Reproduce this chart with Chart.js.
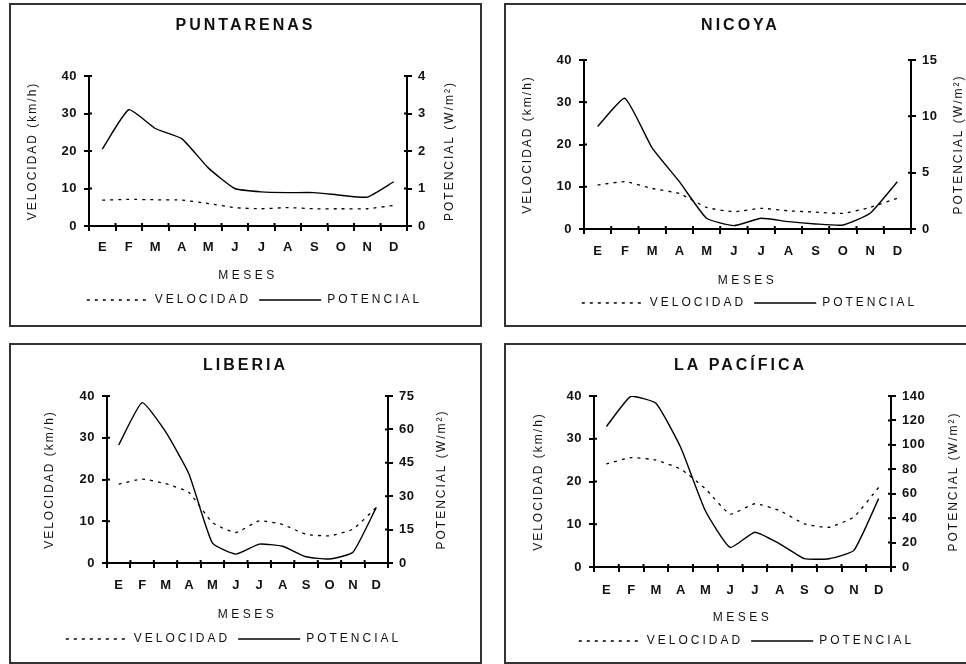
<!DOCTYPE html>
<html>
<head>
<meta charset="utf-8">
<script src="https://cdn.jsdelivr.net/npm/chart.js@4.4.1/dist/chart.umd.min.js"></script>
<style>
    body { margin: 0; width: 966px; height: 664px; overflow: hidden; background: #fff; position: relative; }
    .panel { position: absolute; box-sizing: border-box; border: 2px solid #333; }
    .panel canvas { position: absolute; left: -2px; top: -2px; }
</style>
</head>
<body>
<div class="panel" style="left:9px;top:3px;width:473px;height:324px"><canvas id="c1" width="473" height="324"></canvas></div>
<div class="panel" style="left:504px;top:3px;width:473px;height:324px"><canvas id="c2" width="473" height="324"></canvas></div>
<div class="panel" style="left:9px;top:343px;width:473px;height:321px"><canvas id="c3" width="473" height="321"></canvas></div>
<div class="panel" style="left:504px;top:343px;width:473px;height:321px"><canvas id="c4" width="473" height="321"></canvas></div>
<script>
const months = ['E', 'F', 'M', 'A', 'M', 'J', 'J', 'A', 'S', 'O', 'N', 'D'];

// velocidad in km/h (left axis), potencial in W/m2 (right axis)
const puntarenasVel = [6.9, 7.1, 7.0, 6.9, 6.0, 4.9, 4.6, 4.9, 4.6, 4.6, 4.6, 5.5];
const puntarenasPot = [2.05, 3.1, 2.6, 2.33, 1.55, 1.0, 0.91, 0.89, 0.89, 0.82, 0.77, 1.18];

const nicoyaVel = [10.4, 11.2, 9.6, 8.4, 5.1, 4.1, 4.9, 4.3, 4.0, 3.7, 5.1, 7.3];
const nicoyaPot = [9.1, 11.6, 7.2, 4.2, 0.95, 0.3, 0.95, 0.65, 0.45, 0.35, 1.4, 4.2];

const liberiaVel = [18.9, 20.1, 19.0, 16.9, 9.7, 7.3, 10.1, 9.2, 6.9, 6.5, 8.1, 13.3];
const liberiaPot = [53, 72, 59, 40, 9, 4, 8.5, 7.5, 2.8, 1.8, 4.8, 25];

const pacificaVel = [24.1, 25.6, 25.0, 22.9, 18.3, 12.4, 14.8, 13.2, 10.1, 9.3, 11.7, 18.6];
const pacificaPot = [115, 140, 134, 98, 46, 16, 28.5, 19, 6.8, 6.8, 13.6, 56];

const FONT = "'Liberation Sans', Arial, sans-serif";

const panels = [
    { id: 'c1', title: 'PUNTARENAS', vel: puntarenasVel, pot: puntarenasPot, potMax: 4, potStep: 1,
      H: 324, L: 80, R: 398, T: 73, B: 223, xlab: 244, meses: 273, legend: 297, legendDx: 9, ltx: 24, rtx: 441 },
    { id: 'c2', title: 'NICOYA', vel: nicoyaVel, pot: nicoyaPot, potMax: 15, potStep: 5,
      H: 324, L: 80, R: 407, T: 57, B: 226, xlab: 248, meses: 278, legend: 300, legendDx: 9, ltx: 24, rtx: 455 },
    { id: 'c3', title: 'LIBERIA', vel: liberiaVel, pot: liberiaPot, potMax: 75, potStep: 15,
      H: 321, L: 98, R: 379, T: 53, B: 220, xlab: 242, meses: 272, legend: 296, legendDx: -12, ltx: 41, rtx: 433 },
    { id: 'c4', title: 'LA PACÍFICA', vel: pacificaVel, pot: pacificaPot, potMax: 140, potStep: 20,
      H: 321, L: 90, R: 387, T: 53, B: 224, xlab: 247, meses: 275, legend: 298, legendDx: 6, ltx: 35, rtx: 450 }
];

// wraps a box method so its text is drawn with letter spacing (and an optional shift)
function withSpacing(obj, name, sp, dx) {
    const orig = obj[name];
    obj[name] = function () {
        const c = this.ctx;
        const old = c.letterSpacing;
        c.letterSpacing = sp + 'px';
        if (dx) { c.save(); c.translate(dx, 0); }
        const r = orig.apply(this, arguments);
        if (dx) c.restore();
        c.letterSpacing = old;
        return r;
    };
}

const spacing = {
    id: 'spacing',
    beforeLayout(chart, args, opts) {
        if (chart._spWrapped) return;
        chart._spWrapped = true;
        withSpacing(chart.legend, 'fit', 3, 0);
        withSpacing(chart.legend, 'draw', 3, opts.legendDx);
        withSpacing(chart.titleBlock, 'draw', 3, 0);
    },
    afterLayout(chart) {
        const s = chart.scales;
        if (s.x._spWrapped) return;
        s.x._spWrapped = true;
        withSpacing(s.x, 'drawTitle', 3.5, 0);
        withSpacing(s.y, 'drawTitle', 2, 0);
        withSpacing(s.y, 'drawLabels', 0.5, 0);
        withSpacing(s.y1, 'drawLabels', 0.5, 0);
    }
};

// inward tick marks and the right axis title (reads bottom to top)
const extras = {
    id: 'extras',
    afterDraw(chart, args, opts) {
        const ctx = chart.ctx;
        const a = chart.chartArea;
        const x = chart.scales.x, y = chart.scales.y, y1 = chart.scales.y1;
        ctx.save();
        ctx.strokeStyle = '#000';
        ctx.lineWidth = 2;
        ctx.beginPath();
        const step = x.getPixelForValue(1) - x.getPixelForValue(0);
        for (let i = 0; i <= months.length; i++) {
            const px = x.getPixelForValue(0) + step * (i - 0.5);
            ctx.moveTo(px, a.bottom);
            ctx.lineTo(px, a.bottom - 3);
        }
        y.ticks.forEach(t => {
            const py = y.getPixelForValue(t.value);
            ctx.moveTo(a.left, py);
            ctx.lineTo(a.left + 3, py);
        });
        y1.ticks.forEach(t => {
            const py = y1.getPixelForValue(t.value);
            ctx.moveTo(a.right, py);
            ctx.lineTo(a.right - 3, py);
        });
        ctx.stroke();
        ctx.translate(opts.rtx, (a.top + a.bottom) / 2);
        ctx.rotate(-Math.PI / 2);
        ctx.font = '12px ' + FONT;
        ctx.letterSpacing = '2px';
        ctx.fillStyle = '#111';
        ctx.textAlign = 'center';
        ctx.textBaseline = 'middle';
        ctx.fillText('POTENCIAL (W/m²)', 0, 0);
        ctx.restore();
    }
};

panels.forEach(function (p) {
    const W = 473;
    const bp = p.H - 16 - p.legend;
    const legendTop = p.H - bp - 30;
    const axisGrid = { drawOnChartArea: false, drawTicks: true, tickLength: 5, color: '#000', lineWidth: 2 };
    const tickFont = { family: FONT, size: 13, weight: 'bold' };

    new Chart(document.getElementById(p.id), {
        type: 'line',
        data: {
            labels: months,
            datasets: [{
                label: 'VELOCIDAD',
                data: p.vel,
                yAxisID: 'y',
                borderColor: '#000',
                borderWidth: 1.3,
                borderDash: [3, 5],
                pointRadius: 0,
                tension: 0.15
            }, {
                label: 'POTENCIAL',
                data: p.pot,
                yAxisID: 'y1',
                borderColor: '#000',
                borderWidth: 1.4,
                pointRadius: 0,
                tension: 0.15
            }]
        },
        options: {
            responsive: false,
            animation: false,
            events: [],
            layout: { padding: { left: 0, right: 0, top: 0, bottom: bp } },
            scales: {
                x: {
                    offset: true,
                    grid: Object.assign({ offset: true }, axisGrid),
                    border: { color: '#000', width: 2 },
                    ticks: { color: '#111', font: tickFont, padding: p.xlab - p.B - 5 - 7.8, autoSkip: false, maxRotation: 0 },
                    title: { display: true, text: 'MESES', color: '#111', font: { family: FONT, size: 12 },
                             padding: { top: 0, bottom: legendTop - p.meses - 7.2 } },
                    afterFit: s => { s.height = legendTop - p.B; }
                },
                y: {
                    position: 'left',
                    min: 0,
                    max: 40,
                    ticks: { stepSize: 10, color: '#111', font: tickFont, padding: 7 },
                    grid: axisGrid,
                    border: { color: '#000', width: 2 },
                    title: { display: true, text: 'VELOCIDAD (km/h)', color: '#111', font: { family: FONT, size: 12 },
                             padding: { top: p.ltx - 7.2, bottom: 0 } },
                    afterFit: s => { s.width = p.L; }
                },
                y1: {
                    position: 'right',
                    min: 0,
                    max: p.potMax,
                    ticks: { stepSize: p.potStep, color: '#111', font: tickFont, padding: 6 },
                    grid: axisGrid,
                    border: { color: '#000', width: 2 },
                    afterFit: s => { s.width = W - p.R; }
                }
            },
            plugins: {
                title: {
                    display: true,
                    text: p.title,
                    color: '#111',
                    font: { family: FONT, size: 16, weight: 'bold' },
                    padding: { top: 23 - 9.6, bottom: p.T - 13.4 - 19.2 }
                },
                legend: {
                    position: 'bottom',
                    labels: {
                        usePointStyle: true,
                        pointStyleWidth: 62,
                        padding: 8,
                        color: '#111',
                        font: { family: FONT, size: 12 },
                        generateLabels: function (chart) {
                            return chart.data.datasets.map((ds, i) => ({
                                text: ds.label,
                                datasetIndex: i,
                                strokeStyle: '#000',
                                fillStyle: '#000',
                                lineWidth: 1.3,
                                lineDash: ds.borderDash || [],
                                pointStyle: 'line',
                                rotation: 0,
                                hidden: false,
                                fontColor: '#111'
                            }));
                        }
                    }
                },
                tooltip: { enabled: false },
                extras: { rtx: p.rtx },
                spacing: { legendDx: p.legendDx }
            }
        },
        plugins: [spacing, extras]
    });
});
</script>
</body>
</html>
